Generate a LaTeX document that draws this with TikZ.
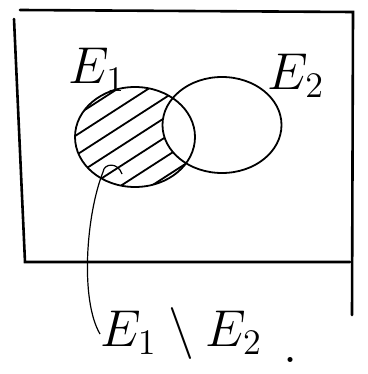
\documentclass[tikz,border=0pt]{standalone}
\usepackage{amsmath,amssymb}
\usepackage{graphicx}
\usepackage{tikz}
\usetikzlibrary{shapes.geometric,positioning,calc}
\tikzset{
  frame/.style={line width=2.6pt,line cap=round,draw=black},
  event/.style={ellipse,draw=black,line width=1.8pt,inner sep=0pt},
  hatch/.style={line width=1.8pt,line cap=round,draw=black},
  lead/.style={line width=1.2pt,draw=black},
  setlabel/.style={font=\huge,inner sep=0pt}
}
\newcommand{\bigmath}[1]{\scalebox{2.5}{$#1$}}
\begin{document}
\begin{tikzpicture}[x=1pt,y=-1pt]
    \path[use as bounding box] (0,0) rectangle (367,374);

    % sample space
    \draw[frame] (20,10) -- (353,12) -- (352,315);
    \draw[frame] (14,19) -- (25,262) -- (350,262);

    % hatched part of E1 outside E2
    \begin{scope}
      \clip (135,137) ellipse (60 and 50);
      \foreach \k in {-5,...,5}{
        \draw[hatch] ($(135,137)+(\k*9,\k*14)+(-90,58)$) -- ++(180,-116);
      }
      \fill[white] (222,125) ellipse (59.5 and 48);
    \end{scope}

    \node[event,minimum width=120pt,minimum height=100pt] (e1) at (135,137) {};
    \node[event,minimum width=119pt,minimum height=96pt] (e2) at (222,125) {};
    \node[setlabel] (e1lbl) at (97,70) {\bigmath{E_1}};
    \node[setlabel] (e2lbl) at (296,76) {\bigmath{E_2}};

    \node[setlabel,anchor=west] (diff) at (100,334) {\bigmath{E_1\setminus E_2}};
    \node[setlabel,anchor=base west] (stop) at (283,362) {\bigmath{.}};
    \coordinate (hook) at (122,174);
    \draw[lead] (hook) .. controls (118,162) and (104,163) .. (103,172)
      .. controls (86,215) and (80,300) .. (diff.west);
  \end{tikzpicture}
\end{document}
